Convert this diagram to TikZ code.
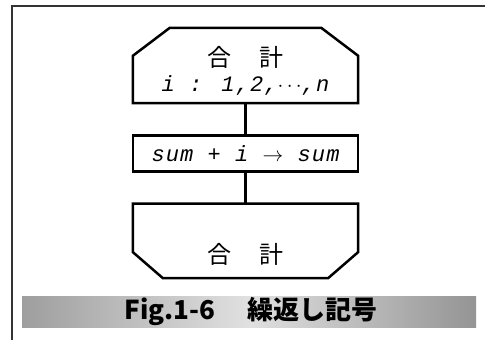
\documentclass[tikz,border=0pt]{standalone}
\usepackage{fontspec}
\newfontfamily\cjk{Noto Sans CJK JP}
\newfontfamily\codefont{Liberation Mono}[LetterSpace=5]
\usetikzlibrary{positioning}
\begin{document}
\begin{tikzpicture}[x=1pt, y=-1pt,
        node distance=31pt,
        myline/.style={line width=2.5pt},
        myloop/.style={minimum width=225pt, minimum height=75pt, inner sep=0pt},
        mybox/.style={draw, myline, minimum width=225pt,
            minimum height=36pt, inner sep=0pt},
        mykanji/.style={font=\cjk\fontsize{24}{28}\selectfont, inner sep=0pt},
        mycode/.style={font=\codefont\itshape\fontsize{22}{26}\selectfont, inner sep=0pt}
    ]
    \useasboundingbox (0,0) rectangle (485,340);
    \draw [line width=1.5pt, black!80] (12,340) -- (12,6) -- (485,6);

    \node [myloop] (loopbeg) at (245.5,65.5) {};
    \node [mybox, below=of loopbeg] (sumbox) {};
    \node [myloop, minimum height=74pt, below=of sumbox] (loopend) {};

    \draw [myline] (loopbeg.south west) -- ([yshift=-28pt]loopbeg.north west)
        -- ([xshift=37pt]loopbeg.north west) -- ([xshift=-37pt]loopbeg.north east)
        -- ([yshift=-28pt]loopbeg.north east) -- (loopbeg.south east) -- cycle;
    \draw [myline] (loopend.north west) -- ([yshift=26pt]loopend.south west)
        -- ([xshift=30pt]loopend.south west) -- ([xshift=-30pt]loopend.south east)
        -- ([yshift=26pt]loopend.south east) -- (loopend.north east) -- cycle;

    \node [mykanji] (begname) at ([yshift=8pt]loopbeg.center) {合\hspace{29pt}計};
    \node [mycode] (begrange) at ([yshift=-20pt]loopbeg.center) {i : 1,2,$\cdots$,n};
    \node [mycode] (sumtext) at (sumbox.center) {sum + i $\rightarrow$ sum};
    \node [mykanji] (endname) at ([yshift=-14pt]loopend.center) {合\hspace{29pt}計};

    \draw [myline] (loopbeg) -- (sumbox);
    \draw [myline] (sumbox) -- (loopend);

    \shade [left color=black!38, right color=black!42, middle color=black!12]
        (22,296) rectangle (476,327);
    \node [font=\cjk\bfseries\fontsize{26}{30}\selectfont, inner sep=0pt]
        (caption) at (251,311.5) {Fig.1-6\hspace{32pt}繰返し記号};
\end{tikzpicture}
\end{document}
